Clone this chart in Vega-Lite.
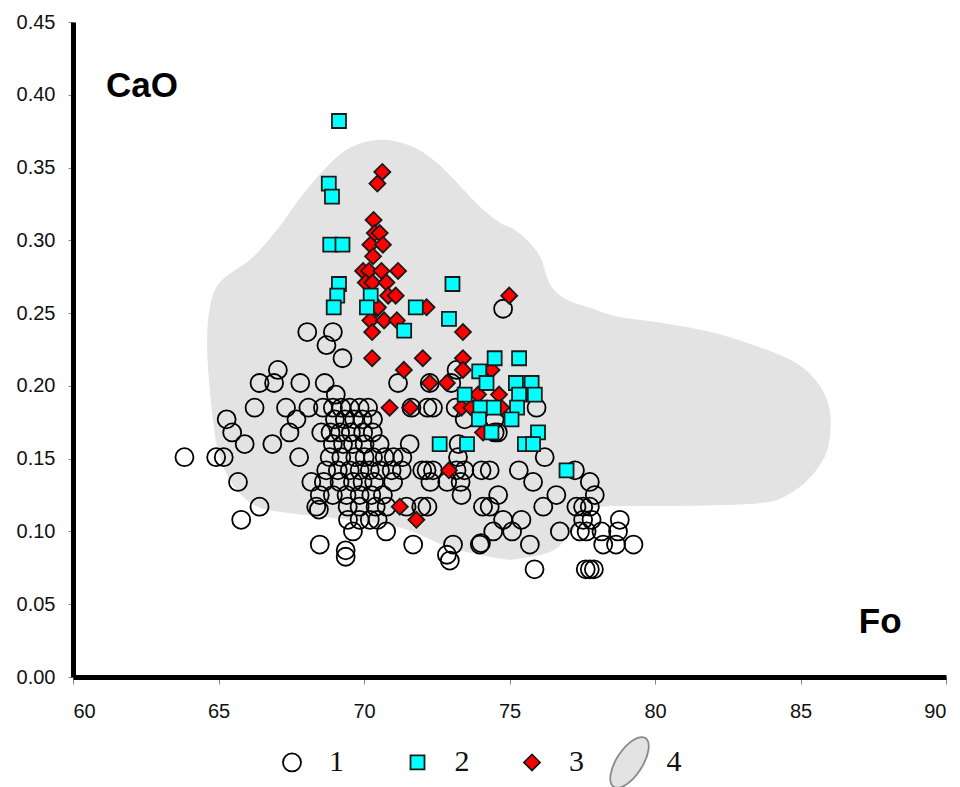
{
  "$schema": "https://vega.github.io/schema/vega-lite/v6.json",
  "width": 873,
  "height": 655,
  "autosize": "none",
  "padding": {"left": 73, "top": 22, "right": 14, "bottom": 110},
  "background": "white",
  "config": {
    "view": {"stroke": null},
    "axis": {"grid": false, "domainColor": "#000", "domainWidth": 5, "tickColor": "#888", "tickWidth": 1, "tickSize": 6, "labelFont": "Liberation Sans", "labelFontSize": 20, "labelColor": "#111", "titleFontSize": 0},
    "legend": {"orient": "none", "legendX": 204, "legendY": 725, "direction": "horizontal", "labelFont": "Liberation Serif", "labelFontSize": 30, "labelColor": "#111", "columnPadding": 16.5, "labelOffset": 22, "symbolOpacity": 1, "symbolSize": 100, "symbolStrokeWidth": 1.8}
  },
  "datasets": {
    "region": [
      {"fo": 70.54, "cao": 0.3688, "ord": 1}, {"fo": 71.67, "cao": 0.364, "ord": 2}, {"fo": 72.5, "cao": 0.353, "ord": 3},
      {"fo": 73.19, "cao": 0.3393, "ord": 4}, {"fo": 73.98, "cao": 0.3228, "ord": 5}, {"fo": 74.67, "cao": 0.3118, "ord": 6},
      {"fo": 75.11, "cao": 0.3077, "ord": 7}, {"fo": 75.59, "cao": 0.3001, "ord": 8}, {"fo": 76.04, "cao": 0.2885, "ord": 9},
      {"fo": 76.39, "cao": 0.2692, "ord": 10}, {"fo": 76.97, "cao": 0.2589, "ord": 11}, {"fo": 77.76, "cao": 0.2534, "ord": 12},
      {"fo": 78.69, "cao": 0.2473, "ord": 13}, {"fo": 80.17, "cao": 0.2431, "ord": 14}, {"fo": 81.54, "cao": 0.2383, "ord": 15},
      {"fo": 82.82, "cao": 0.2315, "ord": 16}, {"fo": 84.64, "cao": 0.2177, "ord": 17}, {"fo": 85.5, "cao": 0.204, "ord": 18},
      {"fo": 85.95, "cao": 0.1868, "ord": 19}, {"fo": 86.01, "cao": 0.1696, "ord": 20}, {"fo": 85.84, "cao": 0.1525, "ord": 21},
      {"fo": 85.33, "cao": 0.1374, "ord": 22}, {"fo": 84.64, "cao": 0.1264, "ord": 23}, {"fo": 83.78, "cao": 0.1202, "ord": 24},
      {"fo": 81.54, "cao": 0.1181, "ord": 25}, {"fo": 78.21, "cao": 0.1174, "ord": 26}, {"fo": 77.66, "cao": 0.1126, "ord": 27},
      {"fo": 77.18, "cao": 0.101, "ord": 28}, {"fo": 76.49, "cao": 0.0872, "ord": 29}, {"fo": 75.35, "cao": 0.0817, "ord": 30},
      {"fo": 74.67, "cao": 0.0817, "ord": 31}, {"fo": 72.95, "cao": 0.0893, "ord": 32}, {"fo": 71.23, "cao": 0.103, "ord": 33},
      {"fo": 68.82, "cao": 0.1099, "ord": 34}, {"fo": 67.55, "cao": 0.1126, "ord": 35}, {"fo": 66.41, "cao": 0.1168, "ord": 36},
      {"fo": 65.73, "cao": 0.1264, "ord": 37}, {"fo": 65.28, "cao": 0.1401, "ord": 38}, {"fo": 64.97, "cao": 0.158, "ord": 39},
      {"fo": 64.8, "cao": 0.1813, "ord": 40}, {"fo": 64.69, "cao": 0.204, "ord": 41}, {"fo": 64.63, "cao": 0.2266, "ord": 42},
      {"fo": 64.69, "cao": 0.25, "ord": 43}, {"fo": 65.04, "cao": 0.2706, "ord": 44}, {"fo": 66.17, "cao": 0.2878, "ord": 45},
      {"fo": 67.1, "cao": 0.3091, "ord": 46}, {"fo": 67.69, "cao": 0.3255, "ord": 47}, {"fo": 68.48, "cao": 0.3448, "ord": 48},
      {"fo": 69.41, "cao": 0.362, "ord": 49}
    ],
    "points": [
      {"fo": 74.78, "cao": 0.253, "t": "1"},
      {"fo": 68.05, "cao": 0.237, "t": "1"}, {"fo": 68.93, "cao": 0.237, "t": "1"},
      {"fo": 68.71, "cao": 0.228, "t": "1"},
      {"fo": 69.26, "cao": 0.219, "t": "1"},
      {"fo": 67.04, "cao": 0.211, "t": "1"}, {"fo": 73.18, "cao": 0.211, "t": "1"},
      {"fo": 66.41, "cao": 0.202, "t": "1"}, {"fo": 66.91, "cao": 0.202, "t": "1"}, {"fo": 67.81, "cao": 0.202, "t": "1"}, {"fo": 68.65, "cao": 0.202, "t": "1"}, {"fo": 71.17, "cao": 0.202, "t": "1"}, {"fo": 72.26, "cao": 0.202, "t": "1"}, {"fo": 73.0, "cao": 0.202, "t": "1"},
      {"fo": 69.03, "cao": 0.194, "t": "1"},
      {"fo": 66.24, "cao": 0.185, "t": "1"}, {"fo": 67.32, "cao": 0.185, "t": "1"}, {"fo": 68.09, "cao": 0.185, "t": "1"}, {"fo": 68.59, "cao": 0.185, "t": "1"}, {"fo": 68.93, "cao": 0.185, "t": "1"}, {"fo": 69.22, "cao": 0.185, "t": "1"}, {"fo": 69.51, "cao": 0.185, "t": "1"}, {"fo": 69.85, "cao": 0.185, "t": "1"}, {"fo": 70.14, "cao": 0.185, "t": "1"}, {"fo": 71.63, "cao": 0.185, "t": "1"}, {"fo": 72.18, "cao": 0.185, "t": "1"}, {"fo": 72.37, "cao": 0.185, "t": "1"}, {"fo": 73.15, "cao": 0.185, "t": "1"}, {"fo": 75.93, "cao": 0.185, "t": "1"},
      {"fo": 65.28, "cao": 0.177, "t": "1"}, {"fo": 67.68, "cao": 0.177, "t": "1"}, {"fo": 69.0, "cao": 0.177, "t": "1"}, {"fo": 69.34, "cao": 0.177, "t": "1"}, {"fo": 69.66, "cao": 0.177, "t": "1"}, {"fo": 69.95, "cao": 0.177, "t": "1"}, {"fo": 70.31, "cao": 0.177, "t": "1"}, {"fo": 73.46, "cao": 0.177, "t": "1"}, {"fo": 74.49, "cao": 0.177, "t": "1"},
      {"fo": 65.47, "cao": 0.168, "t": "1"}, {"fo": 67.44, "cao": 0.168, "t": "1"}, {"fo": 68.53, "cao": 0.168, "t": "1"}, {"fo": 68.85, "cao": 0.168, "t": "1"}, {"fo": 69.18, "cao": 0.168, "t": "1"}, {"fo": 69.55, "cao": 0.168, "t": "1"}, {"fo": 69.97, "cao": 0.168, "t": "1"}, {"fo": 70.3, "cao": 0.168, "t": "1"}, {"fo": 74.49, "cao": 0.168, "t": "1"}, {"fo": 74.6, "cao": 0.168, "t": "1"},
      {"fo": 65.9, "cao": 0.16, "t": "1"}, {"fo": 66.85, "cao": 0.16, "t": "1"}, {"fo": 68.93, "cao": 0.16, "t": "1"}, {"fo": 69.28, "cao": 0.16, "t": "1"}, {"fo": 69.62, "cao": 0.16, "t": "1"}, {"fo": 70.02, "cao": 0.16, "t": "1"}, {"fo": 70.54, "cao": 0.16, "t": "1"}, {"fo": 71.57, "cao": 0.16, "t": "1"}, {"fo": 73.25, "cao": 0.16, "t": "1"},
      {"fo": 63.83, "cao": 0.151, "t": "1"}, {"fo": 64.92, "cao": 0.151, "t": "1"}, {"fo": 65.18, "cao": 0.151, "t": "1"}, {"fo": 67.77, "cao": 0.151, "t": "1"}, {"fo": 68.82, "cao": 0.151, "t": "1"}, {"fo": 69.22, "cao": 0.151, "t": "1"}, {"fo": 69.7, "cao": 0.151, "t": "1"}, {"fo": 70.02, "cao": 0.151, "t": "1"}, {"fo": 70.31, "cao": 0.151, "t": "1"}, {"fo": 70.71, "cao": 0.151, "t": "1"}, {"fo": 71.02, "cao": 0.151, "t": "1"}, {"fo": 71.32, "cao": 0.151, "t": "1"}, {"fo": 73.23, "cao": 0.151, "t": "1"}, {"fo": 76.21, "cao": 0.151, "t": "1"},
      {"fo": 68.7, "cao": 0.142, "t": "1"}, {"fo": 69.1, "cao": 0.142, "t": "1"}, {"fo": 69.51, "cao": 0.142, "t": "1"}, {"fo": 69.85, "cao": 0.142, "t": "1"}, {"fo": 70.2, "cao": 0.142, "t": "1"}, {"fo": 70.55, "cao": 0.142, "t": "1"}, {"fo": 70.95, "cao": 0.142, "t": "1"}, {"fo": 71.3, "cao": 0.142, "t": "1"}, {"fo": 72.0, "cao": 0.142, "t": "1"}, {"fo": 72.15, "cao": 0.142, "t": "1"}, {"fo": 72.37, "cao": 0.142, "t": "1"}, {"fo": 73.18, "cao": 0.142, "t": "1"}, {"fo": 73.45, "cao": 0.142, "t": "1"}, {"fo": 74.04, "cao": 0.142, "t": "1"}, {"fo": 74.32, "cao": 0.142, "t": "1"}, {"fo": 75.32, "cao": 0.142, "t": "1"}, {"fo": 77.25, "cao": 0.142, "t": "1"},
      {"fo": 65.67, "cao": 0.134, "t": "1"}, {"fo": 68.19, "cao": 0.134, "t": "1"}, {"fo": 68.62, "cao": 0.134, "t": "1"}, {"fo": 69.16, "cao": 0.134, "t": "1"}, {"fo": 69.62, "cao": 0.134, "t": "1"}, {"fo": 69.95, "cao": 0.134, "t": "1"}, {"fo": 70.35, "cao": 0.134, "t": "1"}, {"fo": 71.0, "cao": 0.134, "t": "1"}, {"fo": 72.28, "cao": 0.134, "t": "1"}, {"fo": 72.86, "cao": 0.134, "t": "1"}, {"fo": 73.32, "cao": 0.134, "t": "1"}, {"fo": 75.81, "cao": 0.134, "t": "1"}, {"fo": 77.76, "cao": 0.134, "t": "1"},
      {"fo": 68.48, "cao": 0.125, "t": "1"}, {"fo": 68.93, "cao": 0.125, "t": "1"}, {"fo": 69.4, "cao": 0.125, "t": "1"}, {"fo": 69.85, "cao": 0.125, "t": "1"}, {"fo": 70.25, "cao": 0.125, "t": "1"}, {"fo": 70.65, "cao": 0.125, "t": "1"}, {"fo": 73.35, "cao": 0.125, "t": "1"}, {"fo": 74.61, "cao": 0.125, "t": "1"}, {"fo": 76.61, "cao": 0.125, "t": "1"}, {"fo": 77.93, "cao": 0.125, "t": "1"},
      {"fo": 66.41, "cao": 0.117, "t": "1"}, {"fo": 68.36, "cao": 0.117, "t": "1"}, {"fo": 68.45, "cao": 0.115, "t": "1"}, {"fo": 69.44, "cao": 0.117, "t": "1"}, {"fo": 69.85, "cao": 0.117, "t": "1"}, {"fo": 70.4, "cao": 0.117, "t": "1"}, {"fo": 70.78, "cao": 0.117, "t": "1"}, {"fo": 71.46, "cao": 0.117, "t": "1"}, {"fo": 71.97, "cao": 0.117, "t": "1"}, {"fo": 72.18, "cao": 0.117, "t": "1"}, {"fo": 74.09, "cao": 0.117, "t": "1"}, {"fo": 74.32, "cao": 0.117, "t": "1"}, {"fo": 76.16, "cao": 0.117, "t": "1"}, {"fo": 77.3, "cao": 0.117, "t": "1"}, {"fo": 77.53, "cao": 0.117, "t": "1"}, {"fo": 77.76, "cao": 0.117, "t": "1"},
      {"fo": 65.78, "cao": 0.108, "t": "1"}, {"fo": 69.45, "cao": 0.108, "t": "1"}, {"fo": 69.85, "cao": 0.108, "t": "1"}, {"fo": 70.2, "cao": 0.108, "t": "1"}, {"fo": 70.47, "cao": 0.108, "t": "1"}, {"fo": 74.78, "cao": 0.108, "t": "1"}, {"fo": 75.41, "cao": 0.108, "t": "1"}, {"fo": 77.53, "cao": 0.108, "t": "1"}, {"fo": 77.82, "cao": 0.108, "t": "1"}, {"fo": 78.79, "cao": 0.108, "t": "1"},
      {"fo": 69.62, "cao": 0.1, "t": "1"}, {"fo": 70.76, "cao": 0.1, "t": "1"}, {"fo": 74.44, "cao": 0.1, "t": "1"}, {"fo": 75.09, "cao": 0.1, "t": "1"}, {"fo": 76.73, "cao": 0.1, "t": "1"}, {"fo": 77.42, "cao": 0.1, "t": "1"}, {"fo": 77.65, "cao": 0.1, "t": "1"}, {"fo": 78.16, "cao": 0.1, "t": "1"}, {"fo": 78.73, "cao": 0.1, "t": "1"},
      {"fo": 68.48, "cao": 0.091, "t": "1"}, {"fo": 71.69, "cao": 0.091, "t": "1"}, {"fo": 73.06, "cao": 0.091, "t": "1"}, {"fo": 73.98, "cao": 0.091, "t": "1"}, {"fo": 74.02, "cao": 0.092, "t": "1"}, {"fo": 75.7, "cao": 0.091, "t": "1"}, {"fo": 78.22, "cao": 0.091, "t": "1"}, {"fo": 78.66, "cao": 0.091, "t": "1"}, {"fo": 79.26, "cao": 0.091, "t": "1"},
      {"fo": 69.37, "cao": 0.087, "t": "1"}, {"fo": 69.37, "cao": 0.0826, "t": "1"}, {"fo": 72.85, "cao": 0.084, "t": "1"}, {"fo": 72.95, "cao": 0.08, "t": "1"},
      {"fo": 75.86, "cao": 0.074, "t": "1"}, {"fo": 77.62, "cao": 0.074, "t": "1"}, {"fo": 77.76, "cao": 0.074, "t": "1"}, {"fo": 77.9, "cao": 0.074, "t": "1"},

      {"fo": 70.63, "cao": 0.347, "t": "3"}, {"fo": 70.46, "cao": 0.339, "t": "3"}, {"fo": 70.33, "cao": 0.314, "t": "3"},
      {"fo": 70.37, "cao": 0.305, "t": "3"}, {"fo": 70.54, "cao": 0.305, "t": "3"}, {"fo": 70.22, "cao": 0.297, "t": "3"},
      {"fo": 70.65, "cao": 0.297, "t": "3"}, {"fo": 70.31, "cao": 0.289, "t": "3"}, {"fo": 69.97, "cao": 0.279, "t": "3"},
      {"fo": 70.17, "cao": 0.279, "t": "3"}, {"fo": 70.6, "cao": 0.279, "t": "3"}, {"fo": 71.17, "cao": 0.279, "t": "3"},
      {"fo": 70.06, "cao": 0.271, "t": "3"}, {"fo": 70.29, "cao": 0.271, "t": "3"}, {"fo": 70.77, "cao": 0.271, "t": "3"},
      {"fo": 70.83, "cao": 0.262, "t": "3"}, {"fo": 71.09, "cao": 0.262, "t": "3"}, {"fo": 70.44, "cao": 0.253, "t": "3"},
      {"fo": 70.48, "cao": 0.254, "t": "3"}, {"fo": 72.15, "cao": 0.254, "t": "3"}, {"fo": 70.22, "cao": 0.245, "t": "3"},
      {"fo": 70.69, "cao": 0.245, "t": "3"}, {"fo": 71.13, "cao": 0.245, "t": "3"}, {"fo": 70.28, "cao": 0.237, "t": "3"},
      {"fo": 73.4, "cao": 0.237, "t": "3"}, {"fo": 74.99, "cao": 0.262, "t": "3"}, {"fo": 70.28, "cao": 0.219, "t": "3"},
      {"fo": 72.02, "cao": 0.219, "t": "3"}, {"fo": 73.4, "cao": 0.219, "t": "3"}, {"fo": 71.37, "cao": 0.211, "t": "3"},
      {"fo": 73.4, "cao": 0.211, "t": "3"}, {"fo": 74.38, "cao": 0.211, "t": "3"}, {"fo": 72.26, "cao": 0.202, "t": "3"},
      {"fo": 72.85, "cao": 0.202, "t": "3"}, {"fo": 73.92, "cao": 0.194, "t": "3"}, {"fo": 74.64, "cao": 0.194, "t": "3"},
      {"fo": 70.88, "cao": 0.185, "t": "3"}, {"fo": 71.59, "cao": 0.185, "t": "3"}, {"fo": 73.35, "cao": 0.185, "t": "3"},
      {"fo": 73.69, "cao": 0.185, "t": "3"}, {"fo": 74.72, "cao": 0.185, "t": "3"}, {"fo": 74.09, "cao": 0.168, "t": "3"},
      {"fo": 72.92, "cao": 0.142, "t": "3"}, {"fo": 71.23, "cao": 0.117, "t": "3"}, {"fo": 71.8, "cao": 0.108, "t": "3"},

      {"fo": 69.14, "cao": 0.382, "t": "2"}, {"fo": 68.79, "cao": 0.339, "t": "2"}, {"fo": 68.9, "cao": 0.33, "t": "2"},
      {"fo": 68.84, "cao": 0.297, "t": "2"}, {"fo": 69.26, "cao": 0.297, "t": "2"}, {"fo": 69.14, "cao": 0.27, "t": "2"},
      {"fo": 69.08, "cao": 0.262, "t": "2"}, {"fo": 68.96, "cao": 0.254, "t": "2"}, {"fo": 70.23, "cao": 0.262, "t": "2"},
      {"fo": 70.1, "cao": 0.254, "t": "2"}, {"fo": 71.78, "cao": 0.254, "t": "2"}, {"fo": 73.04, "cao": 0.27, "t": "2"},
      {"fo": 72.92, "cao": 0.246, "t": "2"}, {"fo": 71.38, "cao": 0.238, "t": "2"}, {"fo": 74.49, "cao": 0.219, "t": "2"},
      {"fo": 75.33, "cao": 0.219, "t": "2"}, {"fo": 73.96, "cao": 0.21, "t": "2"}, {"fo": 74.21, "cao": 0.202, "t": "2"},
      {"fo": 75.22, "cao": 0.202, "t": "2"}, {"fo": 75.76, "cao": 0.202, "t": "2"}, {"fo": 73.46, "cao": 0.194, "t": "2"},
      {"fo": 75.33, "cao": 0.194, "t": "2"}, {"fo": 75.87, "cao": 0.194, "t": "2"}, {"fo": 74.0, "cao": 0.185, "t": "2"},
      {"fo": 74.46, "cao": 0.185, "t": "2"}, {"fo": 75.26, "cao": 0.185, "t": "2"}, {"fo": 73.95, "cao": 0.177, "t": "2"},
      {"fo": 75.07, "cao": 0.177, "t": "2"}, {"fo": 74.38, "cao": 0.168, "t": "2"}, {"fo": 75.98, "cao": 0.168, "t": "2"},
      {"fo": 72.6, "cao": 0.16, "t": "2"}, {"fo": 73.54, "cao": 0.16, "t": "2"}, {"fo": 75.53, "cao": 0.16, "t": "2"},
      {"fo": 75.81, "cao": 0.16, "t": "2"}, {"fo": 76.96, "cao": 0.142, "t": "2"}
    ],
    "labels": [
      {"fo": 62.37, "cao": 0.3984, "label": "CaO"},
      {"fo": 87.74, "cao": 0.0302, "label": "Fo"}
    ]
  },
  "layer": [
    {
      "data": {"name": "region"},
      "mark": {"type": "line", "interpolate": "cardinal-closed", "fill": "#e3e3e3", "stroke": "#e3e3e3", "strokeWidth": 1},
      "encoding": {
        "x": {"field": "fo", "type": "quantitative", "scale": {"domain": [60, 90], "nice": false, "zero": false},
              "axis": {"values": [60, 65, 70, 75, 80, 85, 90], "format": "d", "title": null, "labelPadding": 17, "tickSize": 7}},
        "y": {"field": "cao", "type": "quantitative", "scale": {"domain": [0, 0.45], "nice": false, "zero": false},
              "axis": {"values": [0, 0.05, 0.1, 0.15, 0.2, 0.25, 0.3, 0.35, 0.4, 0.45], "format": ".2f", "title": null, "labelPadding": 13, "tickSize": 5}},
        "order": {"field": "ord", "type": "quantitative"}
      }
    },
    {
      "data": {"name": "points"},
      "mark": {"type": "point", "filled": true, "opacity": 1, "strokeWidth": 1.8, "size": 100},
      "encoding": {
        "x": {"field": "fo", "type": "quantitative"},
        "y": {"field": "cao", "type": "quantitative"},
        "shape": {"field": "t", "type": "nominal", "title": null,
                  "scale": {"domain": ["1", "2", "3", "4"], "range": [
                    "M1.8,0C1.8,0.994,0.994,1.8,0,1.8C-0.994,1.8,-1.8,0.994,-1.8,0C-1.8,-0.994,-0.994,-1.8,0,-1.8C0.994,-1.8,1.8,-0.994,1.8,0ZM0,-5.7M0,5.7",
                    "M-1.4,-1.4L1.4,-1.4L1.4,1.4L-1.4,1.4ZM0,-5.7M0,5.7M-10.6,0",
                    "M-1.6,0L0,-1.6L1.6,0L0,1.6ZM0,-5.7M0,5.7M-8.4,0",
                    "M3.161,-4.866C4.366,-4.083,3.927,-1.27,2.181,1.417C0.435,4.104,-1.956,5.649,-3.161,4.866C-4.366,4.083,-3.927,1.27,-2.181,-1.417C-0.435,-4.104,1.956,-5.649,3.161,-4.866ZM0,-5.7M0,5.7M-5,0"
                  ]}},
        "fill": {"field": "t", "type": "nominal", "title": null,
                 "scale": {"domain": ["1", "2", "3", "4"], "range": ["transparent", "#00ffff", "#ff0000", "#e3e3e3"]}},
        "stroke": {"field": "t", "type": "nominal", "title": null,
                   "scale": {"domain": ["1", "2", "3", "4"], "range": ["#000000", "#1a1a1a", "#1a1a1a", "#8a8a8a"]}}
      }
    },
    {
      "data": {"name": "labels"},
      "mark": {"type": "text", "font": "Liberation Sans", "fontWeight": "bold", "fontSize": 35, "align": "center", "baseline": "alphabetic", "color": "#000"},
      "encoding": {
        "x": {"field": "fo", "type": "quantitative"},
        "y": {"field": "cao", "type": "quantitative"},
        "text": {"field": "label"}
      }
    }
  ]
}
